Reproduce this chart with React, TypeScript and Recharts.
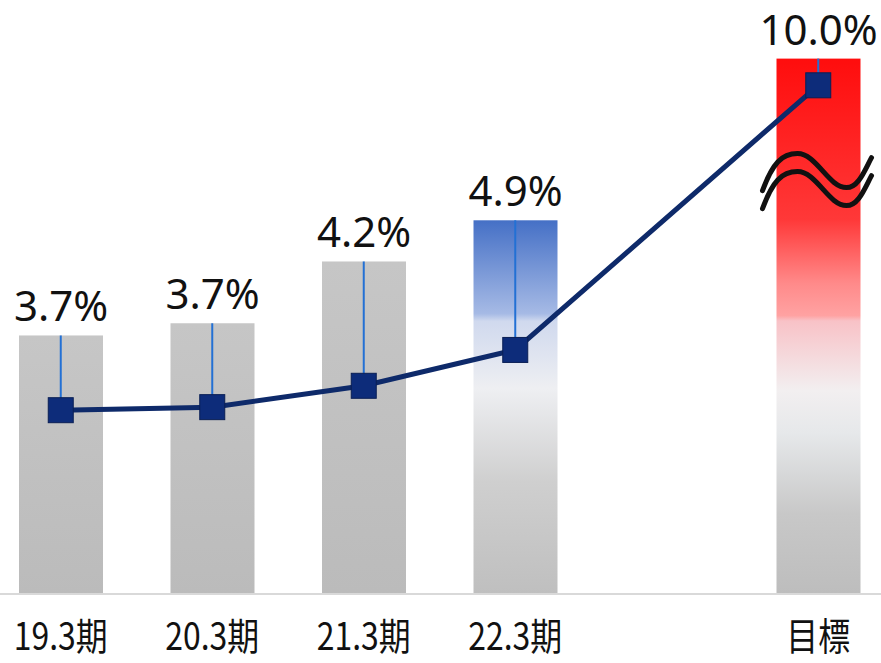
import { ComposedChart, Bar, Line, XAxis, YAxis, LabelList, ErrorBar } from "recharts";

// display values (bar height / line height in chart units)
const categories = ["19.3期", "20.3期", "21.3期", "22.3期", "", "目標"];
const barValues = [3.39, 3.55, 4.36, 4.9, null, 7.02];
const barLabels = ["3.7%", "3.7%", "4.2%", "4.9%", "", "10.0%"];
const lineValues = [2.41, 2.45, 2.73, 3.2, null, 6.67];

const chartData = categories.map((name, i) => ({
  name,
  bar: barValues[i],
  label: barLabels[i],
  line: lineValues[i],
  leader:
    barValues[i] != null && lineValues[i] != null
      ? [0, (barValues[i] as number) - (lineValues[i] as number)]
      : null,
}));

const fillFor = (name: string) => {
  if (name === "22.3期") return "url(#gBlue)";
  if (name === "目標") return "url(#gRed)";
  return "url(#gGray)";
};

const BarShape = (props: any) => {
  const { x, y, width, height, payload } = props;
  if (!height) return null;
  const wave = (o: number) =>
    `M ${x - 14} ${y + 132 + o} C ${x - 4} ${y + 105 + o}, ${x + 5} ${y + 95 + o}, ${x + 21} ${y + 95 + o} ` +
    `C ${x + 40} ${y + 95 + o}, ${x + 52} ${y + 129 + o}, ${x + 70} ${y + 129 + o} ` +
    `C ${x + 82} ${y + 129 + o}, ${x + 88} ${y + 112 + o}, ${x + 95} ${y + 99 + o}`;
  return (
    <g>
      <rect x={x} y={y} width={width} height={height} fill={fillFor(payload.name)} />
      {payload.name === "目標" && (
        <g fill="none" stroke="#111" strokeWidth={5} strokeLinecap="round">
          <path d={wave(0)} />
          <path d={wave(18)} />
        </g>
      )}
    </g>
  );
};

const SquareDot = (props: any) => {
  const { cx, cy, index } = props;
  if (cx == null || cy == null || lineValues[index] == null) return <g key={index} />;
  return (
    <rect key={index} x={cx - 12.5} y={cy - 12.5} width={25} height={25} fill="#0d2c7a" stroke="#0a1f55" strokeWidth={1} />
  );
};

const Tick = (props: any) => {
  const { x, y, payload } = props;
  return (
    <g transform={`translate(${x},${y})`}>
      <text
        transform="scale(0.84,1)"
        y={56}
        textAnchor="middle"
        fill="#111"
        fontSize={38}
        fontFamily="'Noto Sans CJK JP', sans-serif"
      >
        {payload.value}
      </text>
    </g>
  );
};

export default function App() {
  return (
    <div style={{ position: "absolute", left: 0, top: 0, width: 881, height: 663, overflow: "hidden", background: "#fff" }}>
      <div style={{ position: "absolute", left: -15, top: 0 }}>
        <ComposedChart width={909} height={663} data={chartData} margin={{ top: 22, right: 0, left: 0, bottom: 9 }}>
          <defs>
            <linearGradient id="gGray" x1="0" y1="0" x2="0" y2="1">
              <stop offset="0" stopColor="#c6c6c6" />
              <stop offset="1" stopColor="#bbbbbb" />
            </linearGradient>
            <linearGradient id="gBlue" x1="0" y1="0" x2="0" y2="1">
              <stop offset="0" stopColor="#4570c6" />
              <stop offset="0.25" stopColor="#a6bae5" />
              <stop offset="0.27" stopColor="#d0d9ee" />
              <stop offset="0.45" stopColor="#eeeff2" />
              <stop offset="0.7" stopColor="#cfcfcf" />
              <stop offset="1" stopColor="#bfbfbf" />
            </linearGradient>
            <linearGradient id="gRed" x1="0" y1="0" x2="0" y2="1">
              <stop offset="0" stopColor="#ff0d0d" />
              <stop offset="0.3" stopColor="#ff3838" />
              <stop offset="0.42" stopColor="#ff8a8a" />
              <stop offset="0.48" stopColor="#ffa2a2" />
              <stop offset="0.49" stopColor="#f8c2c7" />
              <stop offset="0.62" stopColor="#f2eff0" />
              <stop offset="0.7" stopColor="#e6e8ea" />
              <stop offset="0.85" stopColor="#c8c8c8" />
              <stop offset="1" stopColor="#bdbdbd" />
            </linearGradient>
          </defs>
          <XAxis
            dataKey="name"
            height={60}
            tickSize={0}
            tickMargin={0}
            tickLine={false}
            axisLine={{ stroke: "#d9d9d9", strokeWidth: 2 }}
            tick={<Tick />}
            interval={0}
          />
          <YAxis hide domain={[0, 7.5]} />
          <Bar dataKey="bar" barSize={84} shape={<BarShape />} isAnimationActive={false}>
            <LabelList
              dataKey="label"
              position="top"
              offset={14}
              style={{ fontSize: 42, fill: "#111", fontFamily: "'Noto Sans', sans-serif" }}
            />
          </Bar>
          <Line
            dataKey="line"
            stroke="#0e2a6a"
            strokeWidth={5}
            connectNulls
            dot={<SquareDot />}
            activeDot={false}
            isAnimationActive={false}
          >
            <ErrorBar dataKey="leader" width={0} stroke="#2370d4" strokeWidth={2} direction="y" />
          </Line>
        </ComposedChart>
      </div>
    </div>
  );
}
